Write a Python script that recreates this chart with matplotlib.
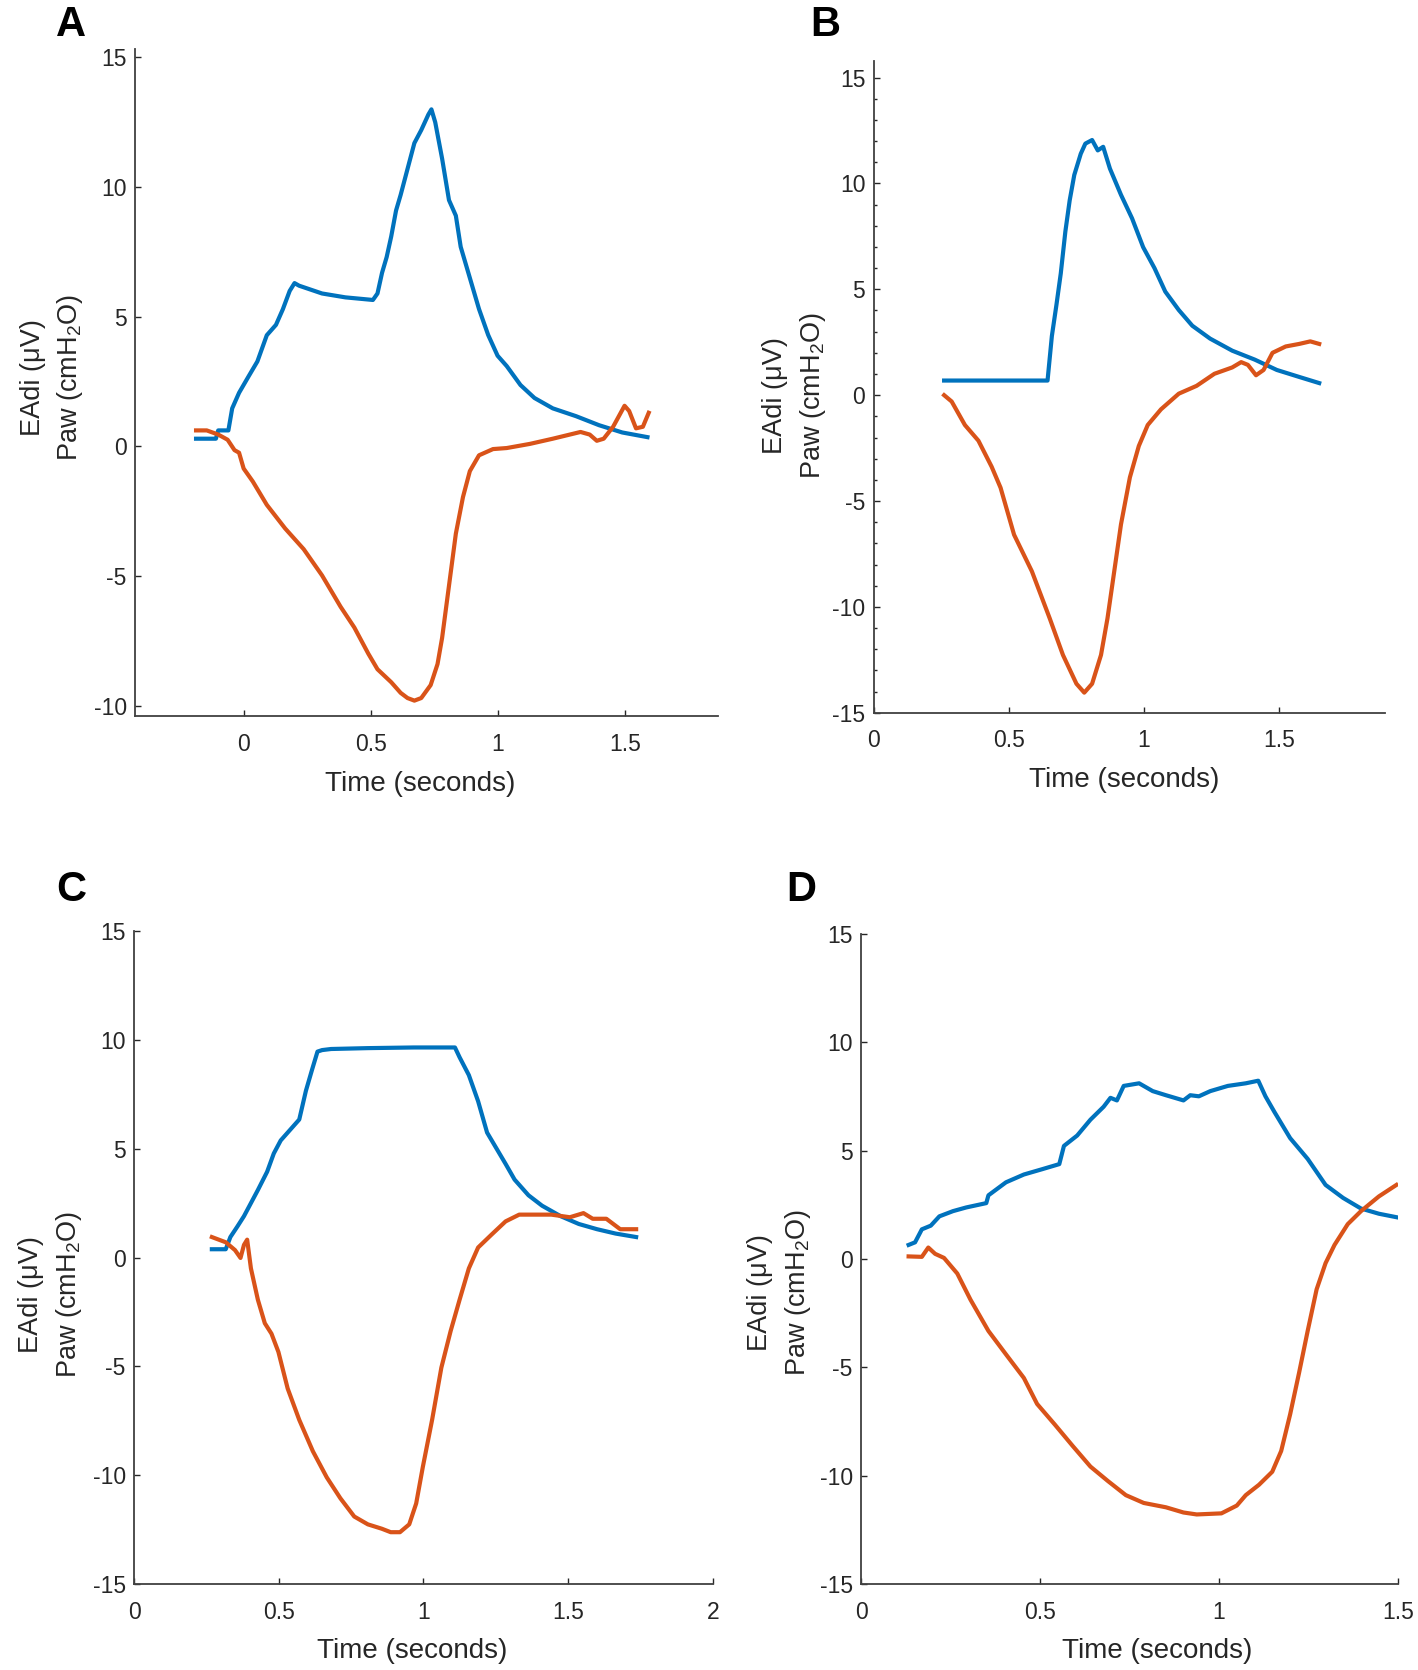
import matplotlib
matplotlib.use("Agg")
import matplotlib.pyplot as plt
from matplotlib.ticker import MultipleLocator

plt.rcParams['font.family'] = ['Liberation Sans', 'DejaVu Sans']
plt.rcParams['mathtext.default'] = 'regular'
plt.rcParams['axes.unicode_minus'] = False

# 数据：每个子图两条曲线（蓝 = Paw，橙 = EAdi），时间单位秒
a_blue_t = [-0.187, -0.109, -0.1, -0.06, -0.045, -0.018, 0.018, 0.054, 0.091, 0.127, 0.154, 0.181, 0.2, 0.218,
            0.308, 0.40, 0.508, 0.526, 0.544, 0.562, 0.58, 0.599, 0.617, 0.644, 0.671, 0.698, 0.726, 0.738,
            0.753, 0.78, 0.807, 0.834, 0.853, 0.889, 0.925, 0.961, 0.998, 1.034, 1.088, 1.143, 1.215, 1.306,
            1.397, 1.488, 1.587]
a_blue_y = [0.30, 0.30, 0.62, 0.62, 1.47, 2.07, 2.68, 3.28, 4.29, 4.69, 5.29, 6.0, 6.3, 6.2,
            5.9, 5.75, 5.65, 5.9, 6.7, 7.3, 8.1, 9.1, 9.7, 10.7, 11.7, 12.2, 12.8, 13.0,
            12.5, 11.1, 9.5, 8.9, 7.7, 6.5, 5.3, 4.3, 3.5, 3.1, 2.37, 1.87, 1.47, 1.17,
            0.82, 0.54, 0.36]
a_orange_t = [-0.187, -0.145, -0.1, -0.063, -0.036, -0.018, 0.0, 0.036, 0.091, 0.163, 0.236, 0.308, 0.381,
              0.435, 0.49, 0.526, 0.58, 0.617, 0.644, 0.671, 0.698, 0.735, 0.762, 0.78, 0.807, 0.834, 0.862,
              0.889, 0.925, 0.98, 1.034, 1.125, 1.215, 1.324, 1.36, 1.388, 1.415, 1.452, 1.497, 1.515, 1.542,
              1.569, 1.592]
a_orange_y = [0.62, 0.62, 0.46, 0.26, -0.14, -0.24, -0.85, -1.35, -2.25, -3.16, -3.96, -4.97, -6.18,
              -6.98, -7.99, -8.59, -9.09, -9.5, -9.7, -9.8, -9.7, -9.2, -8.39, -7.38, -5.37, -3.36, -1.95,
              -0.95, -0.34, -0.1, -0.06, 0.1, 0.3, 0.56, 0.46, 0.22, 0.3, 0.76, 1.57, 1.37, 0.7,
              0.76, 1.3]

b_blue_t = [0.261, 0.644, 0.66, 0.677, 0.693, 0.71, 0.726, 0.743, 0.767, 0.784, 0.809, 0.83, 0.85, 0.875,
            0.916, 0.957, 0.998, 1.04, 1.08, 1.13, 1.18, 1.246, 1.328, 1.411, 1.493, 1.576, 1.65]
b_blue_y = [0.69, 0.69, 2.79, 4.27, 5.75, 7.73, 9.2, 10.4, 11.4, 11.88, 12.05, 11.56, 11.73, 10.7,
            9.46, 8.35, 6.99, 6.0, 4.89, 4.02, 3.28, 2.67, 2.1, 1.68, 1.19, 0.86, 0.57]
b_orange_t = [0.261, 0.289, 0.338, 0.388, 0.437, 0.47, 0.52, 0.586, 0.652, 0.701, 0.751, 0.78, 0.809, 0.842,
              0.866, 0.891, 0.916, 0.949, 0.982, 1.015, 1.064, 1.13, 1.196, 1.262, 1.328, 1.361, 1.386, 1.416,
              1.444, 1.477, 1.526, 1.576, 1.617, 1.65]
b_orange_y = [0.0, -0.3, -1.41, -2.15, -3.38, -4.37, -6.59, -8.32, -10.54, -12.27, -13.63, -14.05, -13.63, -12.27,
              -10.54, -8.32, -6.1, -3.88, -2.4, -1.41, -0.67, 0.07, 0.44, 1.01, 1.31, 1.56, 1.43, 0.94,
              1.19, 2.0, 2.3, 2.42, 2.54, 2.42]

c_blue_t = [0.269, 0.317, 0.333, 0.357, 0.38, 0.404, 0.428, 0.46, 0.483, 0.507, 0.539, 0.571, 0.594, 0.615,
            0.634, 0.65, 0.681, 0.808, 0.967, 1.109, 1.125, 1.157, 1.189, 1.22, 1.252, 1.284, 1.315, 1.363,
            1.41, 1.474, 1.537, 1.6, 1.664, 1.735]
c_blue_y = [0.38, 0.38, 0.94, 1.42, 1.9, 2.5, 3.1, 3.94, 4.78, 5.38, 5.86, 6.34, 7.66, 8.62,
            9.46, 9.53, 9.58, 9.62, 9.65, 9.65, 9.2, 8.38, 7.18, 5.74, 5.02, 4.3, 3.58, 2.86,
            2.38, 1.9, 1.54, 1.3, 1.1, 0.94]
c_orange_t = [0.269, 0.317, 0.349, 0.368, 0.38, 0.391, 0.404, 0.428, 0.452, 0.475, 0.499, 0.531, 0.571, 0.618,
              0.666, 0.713, 0.761, 0.808, 0.856, 0.887, 0.919, 0.951, 0.975, 0.998, 1.03, 1.062, 1.094, 1.125,
              1.157, 1.189, 1.236, 1.284, 1.331, 1.379, 1.442, 1.506, 1.553, 1.585, 1.632, 1.68, 1.735]
c_orange_y = [0.94, 0.7, 0.34, -0.02, 0.58, 0.82, -0.5, -1.94, -3.02, -3.5, -4.34, -6.02, -7.46, -8.9,
              -10.1, -11.06, -11.9, -12.26, -12.46, -12.62, -12.62, -12.26, -11.3, -9.62, -7.46, -5.06, -3.38, -1.94,
              -0.5, 0.46, 1.06, 1.66, 1.97, 1.97, 1.97, 1.85, 2.04, 1.78, 1.78, 1.3, 1.3]

d_blue_t = [0.133, 0.151, 0.17, 0.195, 0.219, 0.257, 0.294, 0.35, 0.356, 0.405, 0.455, 0.505, 0.554, 0.567,
            0.604, 0.641, 0.678, 0.697, 0.715, 0.734, 0.777, 0.815, 0.852, 0.901, 0.92, 0.944, 0.976, 1.025,
            1.075, 1.11, 1.13, 1.155, 1.199, 1.248, 1.298, 1.347, 1.397, 1.447, 1.496]
d_blue_y = [0.65, 0.77, 1.37, 1.54, 1.97, 2.21, 2.38, 2.58, 2.94, 3.54, 3.9, 4.14, 4.38, 5.22,
            5.7, 6.43, 7.03, 7.44, 7.32, 7.99, 8.11, 7.75, 7.56, 7.32, 7.56, 7.51, 7.75, 7.99,
            8.11, 8.23, 7.51, 6.79, 5.58, 4.62, 3.42, 2.82, 2.33, 2.09, 1.93]
d_orange_t = [0.133, 0.17, 0.188, 0.207, 0.232, 0.269, 0.306, 0.356, 0.405, 0.455, 0.492, 0.542, 0.591, 0.641,
              0.69, 0.74, 0.79, 0.852, 0.901, 0.938, 1.007, 1.05, 1.075, 1.112, 1.149, 1.174, 1.199, 1.224,
              1.248, 1.273, 1.298, 1.323, 1.36, 1.397, 1.447, 1.496]
d_orange_y = [0.12, 0.1, 0.53, 0.24, 0.05, -0.67, -1.88, -3.32, -4.4, -5.49, -6.69, -7.65, -8.62, -9.58,
              -10.25, -10.9, -11.26, -11.46, -11.7, -11.79, -11.74, -11.38, -10.9, -10.42, -9.82, -8.86, -7.17, -5.25,
              -3.32, -1.4, -0.19, 0.65, 1.61, 2.21, 2.89, 3.42]

blue = '#0072BD'
orange = '#D95319'
grey = '#262626'

fig = plt.figure(figsize=(14.18, 16.70), dpi=100)

# 各子图：位置、坐标范围、刻度、标签位置
panels = [
    dict(letter='A', rect=[0.0952, 0.5713, 0.4111, 0.3994], xlim=(-0.427, 1.864), ylim=(-10.39, 15.33),
         xticks=[0, 0.5, 1, 1.5], xticklabels=['0', '0.5', '1', '1.5'], yticks=[-10, -5, 0, 5, 10, 15],
         minor=False, ylab_xy=(-0.085, 0.507), xlab_x=0.49, letter_xy=(0.050, 0.997),
         data=(a_blue_t, a_blue_y, a_orange_t, a_orange_y)),
    dict(letter='B', rect=[0.6161, 0.5732, 0.3607, 0.3905], xlim=(0, 1.894), ylim=(-15, 15.8),
         xticks=[0, 0.5, 1, 1.5], xticklabels=['0', '0.5', '1', '1.5'], yticks=[-15, -10, -5, 0, 5, 10, 15],
         minor=True, ylab_xy=(-0.090, 0.487), xlab_x=0.49, letter_xy=(0.582, 0.997),
         data=(b_blue_t, b_blue_y, b_orange_t, b_orange_y)),
    dict(letter='C', rect=[0.0945, 0.0515, 0.4082, 0.3910], xlim=(0, 2), ylim=(-15, 15),
         xticks=[0, 0.5, 1, 1.5, 2], xticklabels=['0', '0.5', '1', '1.5', '2'], yticks=[-15, -10, -5, 0, 5, 10, 15],
         minor=False, ylab_xy=(-0.087, 0.444), xlab_x=0.48, letter_xy=(0.050, 0.479),
         data=(c_blue_t, c_blue_y, c_orange_t, c_orange_y)),
    dict(letter='D', rect=[0.6072, 0.0515, 0.3786, 0.3892], xlim=(0, 1.5), ylim=(-15, 15),
         xticks=[0, 0.5, 1, 1.5], xticklabels=['0', '0.5', '1', '1.5'], yticks=[-15, -10, -5, 0, 5, 10, 15],
         minor=False, ylab_xy=(-0.090, 0.449), xlab_x=0.551, letter_xy=(0.565, 0.479),
         data=(d_blue_t, d_blue_y, d_orange_t, d_orange_y)),
]

for p in panels:
    ax = fig.add_axes(p['rect'])
    bt, by, ot, oy = p['data']
    ax.plot(bt, by, color=blue, linewidth=3.0, solid_joinstyle='round')
    ax.plot(ot, oy, color=orange, linewidth=3.0, solid_joinstyle='round')

    ax.set_xlim(*p['xlim'])
    ax.set_ylim(*p['ylim'])
    ax.set_xticks(p['xticks'])
    ax.set_xticklabels(p['xticklabels'])
    ax.set_yticks(p['yticks'])
    if p['minor']:
        ax.yaxis.set_minor_locator(MultipleLocator(1))
        ax.tick_params(axis='y', which='minor', direction='in', length=2.5, width=1.0, color=grey)

    for side in ['top', 'right']:
        ax.spines[side].set_visible(False)
    for side in ['left', 'bottom']:
        ax.spines[side].set_color('#404040')
        ax.spines[side].set_linewidth(1.3)

    ax.tick_params(axis='both', which='major', direction='in', length=4.5, width=1.0,
                   colors=grey, labelsize=16.5)
    ax.tick_params(axis='x', pad=12)
    ax.tick_params(axis='y', pad=6)

    ax.set_xlabel('Time (seconds)', fontsize=20, color=grey)
    ax.xaxis.set_label_coords(p['xlab_x'], -0.083)
    ax.set_ylabel('EAdi (μV)\nPaw (cmH$_2$O)', fontsize=19.5, color=grey, linespacing=1.45)
    ax.yaxis.set_label_coords(*p['ylab_xy'])

    fig.text(p['letter_xy'][0], p['letter_xy'][1], p['letter'], fontsize=30, fontweight='bold',
             ha='center', va='top', color='black')

fig.savefig('out.png', dpi=100)
